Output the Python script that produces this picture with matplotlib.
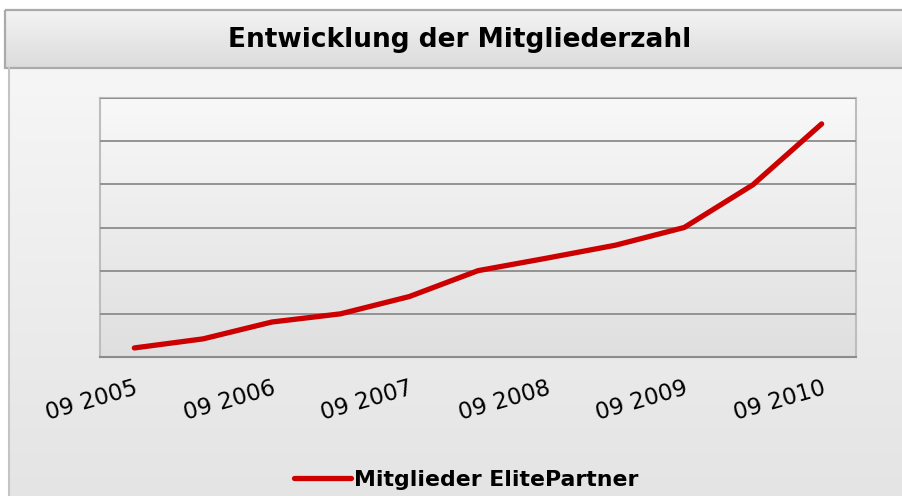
import matplotlib.pyplot as plt
import numpy as np
from matplotlib.patches import Rectangle

# data (arbitrary units, y axis has no labels)
periods = ['09 2005', '03 2006', '09 2006', '03 2007', '09 2007', '03 2008',
           '09 2008', '03 2009', '09 2009', '03 2010', '09 2010']
members = [0.21, 0.42, 0.81, 1.0, 1.40, 2.0, 2.29, 2.59, 3.0, 3.99, 5.40]
series_name = 'Mitglieder ElitePartner'
title = 'Entwicklung der Mitgliederzahl'

plt.rcParams['font.family'] = ['DejaVu Sans']

W, H = 903, 496
fig = plt.figure(figsize=(W / 100, H / 100), dpi=100)

# background in pixel coordinates
bg = fig.add_axes([0, 0, 1, 1])
bg.set_xlim(0, W)
bg.set_ylim(H, 0)
bg.axis('off')

def vgrad(top, bottom, n=256):
    t = np.linspace(0, 1, n)[:, None]
    top = np.array(top)
    bottom = np.array(bottom)
    return (top * (1 - t) + bottom * t)[:, None, :].repeat(2, axis=1)

# chart area
bg.imshow(vgrad([0.965, 0.965, 0.965], [0.895, 0.895, 0.895]),
          extent=(9, W, H, 68), aspect='auto', interpolation='bilinear')
bg.plot([9, 9], [68, H], color='#c4c4c4', lw=1.5)

# title box
bg.imshow(vgrad([0.955, 0.955, 0.955], [0.86, 0.86, 0.86]),
          extent=(5, W + 2, 68, 10), aspect='auto', interpolation='bilinear')
bg.add_patch(Rectangle((5, 10), W, 58, fill=False, ec='#aaaaaa', lw=1.6))
bg.text(460, 40, title, ha='center', va='center', fontsize=19,
        fontweight='bold', color='black')

# plot area
left, top, right, bottom = 100, 98, 856, 357
ax = fig.add_axes([left / W, 1 - bottom / H, (right - left) / W, (bottom - top) / H])
ax.imshow(vgrad([0.975, 0.975, 0.975], [0.875, 0.875, 0.875]),
          extent=(0, 1, 0, 1), transform=ax.transAxes, aspect='auto',
          interpolation='bilinear', zorder=0)

x = np.arange(len(periods))
ax.plot(x, members, color='#cc0000', lw=3.8, solid_capstyle='round',
        solid_joinstyle='round', label=series_name, zorder=3)

ax.set_xlim(-0.5, len(periods) - 0.5)
ax.set_ylim(0, 6)
ax.set_yticks(range(7))
ax.set_yticklabels([])
ax.tick_params(axis='y', length=0)
ax.yaxis.grid(True, color='#8c8c8c', lw=1.3)
ax.set_axisbelow(False)

ax.set_xticks(x[::2])
ax.set_xticklabels(periods[::2], rotation=16, ha='right', va='top',
                   rotation_mode='anchor', fontsize=16.5)
ax.tick_params(axis='x', length=0, pad=14)

for s in ['top', 'left', 'right']:
    ax.spines[s].set_color('#bdbdbd')
    ax.spines[s].set_linewidth(1.5)
ax.spines['bottom'].set_color('#8c8c8c')
ax.spines['bottom'].set_linewidth(1.5)

fig.legend(loc='center', bbox_to_anchor=(466 / W, 1 - 480 / H), frameon=False,
           handlelength=2.6, handletextpad=0.15,
           prop={'size': 15.8, 'weight': 'bold'})

fig.savefig('out.png', dpi=100)
